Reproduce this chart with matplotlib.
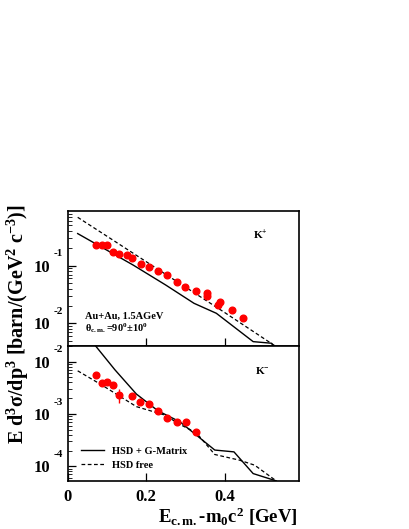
import numpy as np
import matplotlib
matplotlib.use("Agg")
import matplotlib.pyplot as plt

plt.rcParams['font.family'] = ['Liberation Serif', 'DejaVu Serif']
plt.rcParams['font.weight'] = 'bold'
plt.rcParams['mathtext.fontset'] = 'custom'
plt.rcParams['mathtext.rm'] = 'Liberation Serif:bold'
plt.rcParams['mathtext.it'] = 'Liberation Serif:bold'
plt.rcParams['mathtext.bf'] = 'Liberation Serif:bold'

# K+ panel
kp_data_x = [0.073, 0.086, 0.099, 0.116, 0.131, 0.150, 0.164, 0.186, 0.207, 0.230,
             0.253, 0.278, 0.300, 0.328, 0.356, 0.355, 0.388, 0.382, 0.418, 0.448]
kp_data_y = [0.226, 0.232, 0.229, 0.175, 0.160, 0.153, 0.134, 0.108, 0.0949, 0.0809,
             0.0699, 0.0521, 0.0427, 0.0368, 0.0332, 0.0302, 0.0237, 0.0208, 0.0170, 0.0122]
kp_gmat_x = [0.025, 0.167, 0.250, 0.322, 0.379, 0.473, 0.520, 0.545]
kp_gmat_y = [0.36, 0.102, 0.046, 0.0222, 0.0149, 0.0048, 0.0045, 0.0025]
kp_free_x = [0.025, 0.10, 0.20, 0.30, 0.40, 0.53, 0.56]
kp_free_y = [0.69, 0.323, 0.117, 0.0425, 0.0154, 0.0040, 0.0029]

# K- panel
km_data_x = [0.073, 0.086, 0.099, 0.116, 0.131, 0.163, 0.185, 0.206, 0.230, 0.253, 0.278, 0.302, 0.328]
km_data_y = [5.6e-3, 3.94e-3, 4.17e-3, 3.65e-3, 2.31e-3, 2.24e-3, 1.67e-3, 1.55e-3,
             1.14e-3, 8.36e-4, 6.9e-4, 7.0e-4, 4.56e-4]
km_err_lo = [0, 0, 0, 0, 0.67e-3, 0, 0, 0, 0, 0, 0, 0, 0]
km_err_hi = [0, 0, 0, 0, 0.66e-3, 0, 0, 0, 0, 0, 0, 0, 0]
km_gmat_x = [0.060, 0.12, 0.175, 0.23, 0.286, 0.375, 0.424, 0.473, 0.532]
km_gmat_y = [10**-1.60, 10**-2.155, 10**-2.62, 10**-2.94, 10**-3.15, 10**-3.69,
             10**-3.725, 10**-4.14, 10**-4.28]
km_free_x = [0.025, 0.086, 0.175, 0.247, 0.286, 0.328, 0.375, 0.439, 0.477, 0.532]
km_free_y = [10**-2.175, 10**-2.444, 10**-2.86, 10**-3.02, 10**-3.2, 10**-3.36,
             10**-3.775, 10**-3.885, 10**-3.98, 10**-4.28]

fig = plt.figure(figsize=(4.09, 5.29), dpi=100)
ax1 = fig.add_axes([0.166, 0.3465, 0.565, 0.2546])
ax2 = fig.add_axes([0.166, 0.0907, 0.565, 0.2558])

for ax in (ax1, ax2):
    ax.set_yscale('log')
    ax.set_xlim(0, 0.59)
    for s in ax.spines.values():
        s.set_linewidth(1.2)
    ax.tick_params(which='both', direction='in', right=False, top=False)
    ax.tick_params(which='major', length=6, width=0.9, labelsize=12, pad=13)
    ax.tick_params(which='minor', length=3, width=0.6)
    ax.set_xticks([0.2, 0.4])
    ax.xaxis.set_minor_locator(matplotlib.ticker.NullLocator())

ax1.set_ylim(0.00408, 0.887)
ax2.set_ylim(5.22e-5, 0.0202)

ax1.plot(kp_gmat_x, kp_gmat_y, '-', color='black', lw=1.0)
ax1.plot(kp_free_x, kp_free_y, color='black', lw=0.9, dashes=(3, 2))
ax1.plot(kp_data_x, kp_data_y, 'o', color='red', ms=4.8, mec='red')

ax2.plot(km_gmat_x, km_gmat_y, '-', color='black', lw=1.0, label='HSD + G-Matrix')
ax2.plot(km_free_x, km_free_y, color='black', lw=0.9, dashes=(3, 2), label='HSD free')
ax2.errorbar(km_data_x, km_data_y, yerr=[km_err_lo, km_err_hi], fmt='o', color='red',
             ms=4.8, elinewidth=1.0, capsize=0)

# ROOT-like 10^n labels
ax1.set_yticks([0.1, 0.01])
ax1.set_yticklabels(['10', '10'])
ax2.set_yticks([0.01, 0.001, 0.0001])
ax2.set_yticklabels(['10', '10', '10'])
for ax, vals, exps in ((ax1, [0.1, 0.01], ['-1', '-2']),
                       (ax2, [0.01, 0.001, 0.0001], ['-2', '-3', '-4'])):
    for v, e in zip(vals, exps):
        ax.annotate(e, xy=(0, v), xycoords=('axes fraction', 'data'),
                    xytext=(-10, 8.5), textcoords='offset points',
                    ha='left', va='center', fontsize=8, fontweight='bold',
                    annotation_clip=False)

ax1.set_xticklabels([])
ax2.set_xticks([0, 0.2, 0.4])
ax2.set_xticklabels(['0', '0.2', '0.4'])
ax2.tick_params(axis='x', pad=6)

ax1.text(0.80, 0.82, 'K$^{+}$', transform=ax1.transAxes, fontsize=8, fontweight='bold',
         va='center')
ax2.text(0.81, 0.82, 'K$^{-}$', transform=ax2.transAxes, fontsize=8, fontweight='bold',
         va='center')
ax1.text(0.073, 0.215, 'Au+Au, 1.5AGeV', transform=ax1.transAxes, fontsize=7.5,
         fontweight='bold', va='center')
ax1.text(0.073, 0.13, r'θ$_{\mathrm{c.m.}}$=90$^{0}$±10$^{0}$', transform=ax1.transAxes,
         fontsize=7.5, fontweight='bold', va='center')

ax2.legend(loc='upper left', bbox_to_anchor=(0.055, 0.255), frameon=False,
           handlelength=2.2, handletextpad=0.8, labelspacing=0.45, borderpad=0,
           borderaxespad=0, prop={'weight': 'bold', 'size': 7.5})

fig.text(0.044, 0.387, r'E d$^{3}$σ/dp$^{3}$ [barn/(GeV$^{2}$ c$^{-3}$)]', rotation=90,
         ha='center', va='center', fontsize=14.5, fontweight='bold')
fig.text(0.727, 0.0113, r'E$_{\mathrm{c.m.}}$-m$_{0}$c$^{2}$ [GeV]', ha='right',
         va='baseline', fontsize=13.5, fontweight='bold')

fig.savefig('out.png', dpi=100)
